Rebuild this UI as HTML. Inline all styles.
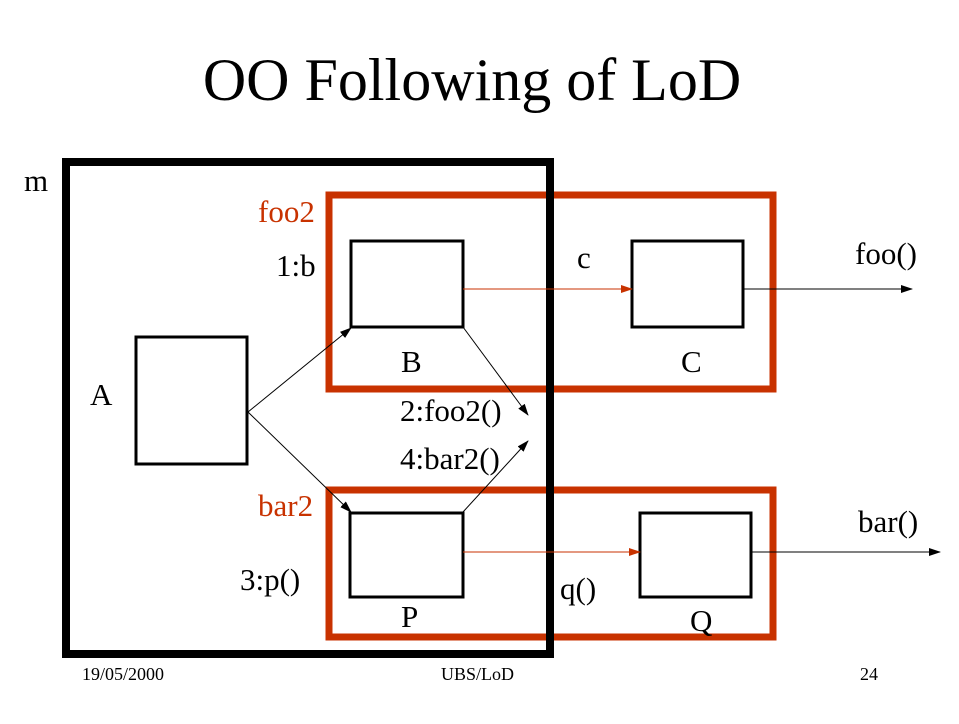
<!DOCTYPE html>
<html><head><style>
body{margin:0;background:#fff;}
svg text{font-family:"Liberation Serif",serif;}
</style></head><body>
<svg width="959" height="719" viewBox="0 0 959 719" xmlns="http://www.w3.org/2000/svg">
<defs>
<marker id="ab" markerWidth="12" markerHeight="8" refX="11" refY="4" orient="auto" markerUnits="userSpaceOnUse"><path d="M0,0 L12,4 L0,8 z" fill="#000"/></marker>
<marker id="ar" markerWidth="12" markerHeight="8" refX="11" refY="4" orient="auto" markerUnits="userSpaceOnUse"><path d="M0,0 L12,4 L0,8 z" fill="#c83200"/></marker>
</defs>
<text x="472" y="100" font-size="60" text-anchor="middle">OO Following of LoD</text>
<rect x="329" y="195" width="444" height="194" fill="none" stroke="#c83200" stroke-width="7"/>
<rect x="329" y="490" width="444" height="147" fill="none" stroke="#c83200" stroke-width="7"/>
<rect x="66" y="162" width="484" height="492" fill="none" stroke="#000" stroke-width="8"/>
<g fill="none" stroke="#000" stroke-width="3">
<rect x="351" y="241" width="112" height="86"/>
<rect x="632" y="241" width="111" height="86"/>
<rect x="136" y="337" width="111" height="127"/>
<rect x="350" y="513" width="113" height="84"/>
<rect x="640" y="513" width="111" height="84"/>
</g>
<g stroke="#000" stroke-width="1" fill="none">
<line x1="248" y1="412" x2="351" y2="328" marker-end="url(#ab)"/>
<line x1="248" y1="412" x2="351" y2="512" marker-end="url(#ab)"/>
<line x1="463" y1="327" x2="528" y2="415" marker-end="url(#ab)"/>
<line x1="463" y1="512" x2="528" y2="441" marker-end="url(#ab)"/>
<line x1="743" y1="289" x2="912" y2="289" marker-end="url(#ab)"/>
<line x1="751" y1="552" x2="940" y2="552" marker-end="url(#ab)"/>
</g>
<g stroke="#c83200" stroke-width="1">
<line x1="463" y1="289" x2="632" y2="289" marker-end="url(#ar)"/>
<line x1="463" y1="552" x2="640" y2="552" marker-end="url(#ar)"/>
</g>
<g font-size="31">
<text x="24" y="191">m</text>
<text x="258" y="222" fill="#c83200">foo2</text>
<text x="276" y="276">1:b</text>
<text x="577" y="268">c</text>
<text x="855" y="264">foo()</text>
<text x="401" y="372">B</text>
<text x="681" y="372">C</text>
<text x="90" y="405">A</text>
<text x="400" y="421">2:foo2()</text>
<text x="400" y="469">4:bar2()</text>
<text x="258" y="516" fill="#c83200">bar2</text>
<text x="858" y="532">bar()</text>
<text x="240" y="590">3:p()</text>
<text x="560" y="599">q()</text>
<text x="401" y="627">P</text>
<text x="690" y="631">Q</text>
</g>
<g font-size="18">
<text x="82" y="680">19/05/2000</text>
<text x="441" y="680">UBS/LoD</text>
<text x="860" y="680">24</text>
</g>
</svg>
</body></html>
